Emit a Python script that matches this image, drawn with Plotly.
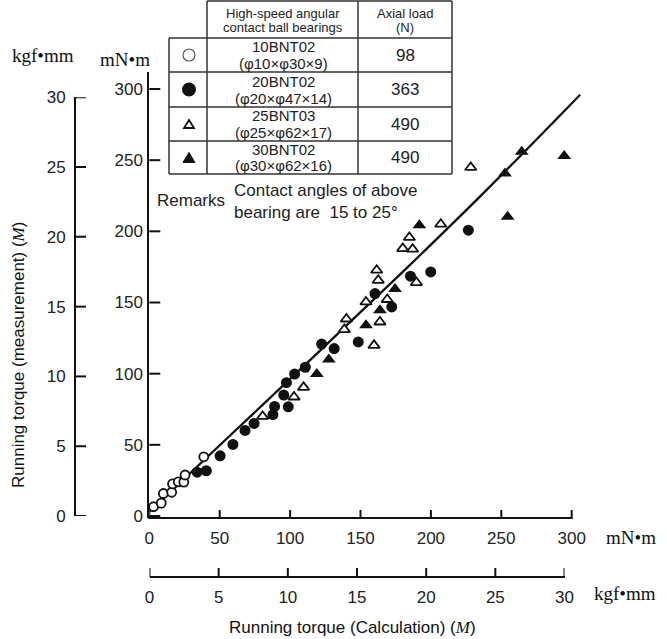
import plotly.graph_objects as go

W, H = 667, 639

# ---------------- data (mN·m) ----------------
oc_x = [3.0, 8.5, 10.0, 15.9, 16.5, 20.6, 24.5, 25.4, 38.7]
oc_y = [6.5, 9.0, 15.8, 16.7, 22.6, 24.0, 23.8, 28.8, 41.6]

fc_x = [34.0, 40.5, 50.3, 59.4, 68.0, 74.4, 87.8, 89.0, 95.5, 97.4, 98.7, 103.2,
        110.8, 122.4, 131.3, 148.4, 160.3, 172.2, 185.5, 199.9, 226.6]
fc_y = [30.8, 31.8, 42.3, 50.3, 60.1, 65.0, 71.3, 77.0, 85.0, 93.7, 76.7, 99.7,
        104.5, 120.8, 117.6, 122.3, 156.3, 146.9, 168.5, 171.5, 200.8]

ot_x = [80.5, 102.8, 109.6, 138.5, 140.0, 153.9, 159.6, 163.8, 162.6, 161.5, 169.0,
        180.0, 187.0, 184.7, 189.7, 207.0, 228.3]
ot_y = [70.0, 83.6, 90.4, 131.0, 138.4, 150.4, 119.9, 136.3, 165.6, 172.7, 152.1,
        187.9, 187.5, 195.7, 164.0, 205.0, 244.9]

ft_x = [119.0, 127.5, 153.9, 163.8, 174.5, 191.8, 252.6, 254.5, 264.5, 294.7]
ft_y = [99.8, 110.0, 134.0, 144.5, 159.5, 204.3, 240.7, 210.2, 255.9, 252.9]

fit_x = [0, 60, 120, 180, 240, 306]
fit_y = [3.0, 59.0, 115.0, 171.5, 229.5, 296.0]

x_ticks = [0, 50, 100, 150, 200, 250, 300]
y_ticks = [0, 50, 100, 150, 200, 250, 300]
kgf_ticks = [0, 5, 10, 15, 20, 25, 30]

bearings = ["10BNT02", "20BNT02", "25BNT03", "30BNT02"]
dims = ["(φ10×φ30×9)", "(φ20×φ47×14)", "(φ25×φ62×17)", "(φ30×φ62×16)"]
loads = ["98", "363", "490", "490"]

# ---------------- geometry helpers ----------------
def PX(p):
    return p / W

def PY(p):
    return 1 - p / H

X0, X300 = 149.3, 571.7
kx = (X300 - X0) / 300
XMAX = 310
Y0, Y300 = 516, 89
ky = (Y0 - Y300) / 300
YTOP, YBOT = 72, 518

SANS = "Liberation Sans, Arial, sans-serif"
SERIF = "Liberation Serif, Times New Roman, serif"
INK = "#111111"

fig = go.Figure()

fig.add_trace(go.Scatter(x=fit_x, y=fit_y, mode="lines",
                         line=dict(color=INK, width=2.3, shape="spline"),
                         hoverinfo="skip", showlegend=False))
fig.add_trace(go.Scatter(x=fc_x, y=fc_y, mode="markers", cliponaxis=False,
                         marker=dict(symbol="circle", size=11, color=INK),
                         showlegend=False))
fig.add_trace(go.Scatter(x=ft_x, y=ft_y, mode="markers", cliponaxis=False,
                         marker=dict(symbol="triangle-up", size=12, color=INK),
                         showlegend=False))
fig.add_trace(go.Scatter(x=ot_x, y=ot_y, mode="markers", cliponaxis=False,
                         marker=dict(symbol="triangle-up", size=10, color="white",
                                     line=dict(color=INK, width=1.8)),
                         showlegend=False))
fig.add_trace(go.Scatter(x=oc_x, y=oc_y, mode="markers", cliponaxis=False,
                         marker=dict(symbol="circle", size=9, color="white",
                                     line=dict(color=INK, width=1.8)),
                         showlegend=False))

# dummy traces so secondary free axes get drawn
fig.add_trace(go.Scatter(x=[0], y=[0], xaxis="x2", yaxis="y", mode="markers",
                         marker=dict(opacity=0), hoverinfo="skip", showlegend=False))
fig.add_trace(go.Scatter(x=[0], y=[0], xaxis="x", yaxis="y2", mode="markers",
                         marker=dict(opacity=0), hoverinfo="skip", showlegend=False))

tickfont = dict(family=SANS, size=17, color="#222")
common = dict(showgrid=False, zeroline=False, automargin=False, tickfont=tickfont,
              ticks="")

fig.update_layout(
    template="none",
    width=W, height=H,
    margin=dict(l=0, r=0, t=0, b=0, pad=0, autoexpand=False),
    paper_bgcolor="white", plot_bgcolor="rgba(0,0,0,0)",
    showlegend=False,
    xaxis=dict(domain=[PX(X0), PX(X0 + XMAX * kx)], range=[0, XMAX], anchor="y",
               tickvals=x_ticks, showline=False, ticklabelstandoff=8, **common),
    yaxis=dict(domain=[PY(YBOT), PY(YTOP)], range=[-(YBOT - Y0) / ky, (Y0 - YTOP) / ky],
               anchor="x", tickvals=y_ticks, ticklabelstandoff=1,
               showline=True, linewidth=2, linecolor=INK, **common),
    xaxis2=dict(domain=[PX(149.5), PX(564.5)], range=[0, 30], anchor="free",
                position=PY(577), side="bottom", tickvals=kgf_ticks,
                showline=True, linewidth=2, linecolor=INK, ticklabelstandoff=5, **common),
    yaxis2=dict(domain=[PY(516), PY(97.3)], range=[0, 30], anchor="free",
                position=PX(75), side="left", tickvals=kgf_ticks,
                showline=True, linewidth=2, linecolor=INK, ticklabelstandoff=5, **common),
)

shapes = []
tk = dict(color=INK, width=2)
# main x axis line (0..300)
shapes.append(dict(type="line", xref="paper", yref="paper", x0=PX(X0 - 1), x1=PX(X300 + 1),
                   y0=PY(YBOT), y1=PY(YBOT), line=tk))

# tick marks (positioned through each axis' own scale)
for v in x_ticks:
    shapes.append(dict(type="line", xref="x", yref="paper", x0=v, x1=v,
                       y0=PY(YBOT), y1=PY(YBOT - 8), line=tk))
for v in y_ticks:
    shapes.append(dict(type="line", xref="paper", yref="y", x0=PX(X0), x1=PX(X0 + 11),
                       y0=v, y1=v, line=tk))
for v in kgf_ticks:
    shapes.append(dict(type="line", xref="x2", yref="paper", x0=v, x1=v,
                       y0=PY(577), y1=PY(568), line=tk))
    shapes.append(dict(type="line", xref="paper", yref="y2", x0=PX(75), x1=PX(86),
                       y0=v, y1=v, line=tk))

# table
tl = dict(color="#333", width=1.5)
T_L, T_C1, T_C2, T_R = 169, 207, 358, 452
rows = [1, 38, 72, 107, 141, 174]
shapes.append(dict(type="line", xref="paper", yref="paper", x0=PX(T_C1), x1=PX(T_R),
                   y0=PY(rows[0]), y1=PY(rows[0]), line=tl))
for r in rows[1:]:
    shapes.append(dict(type="line", xref="paper", yref="paper", x0=PX(T_L), x1=PX(T_R),
                       y0=PY(r), y1=PY(r), line=tl))
shapes.append(dict(type="line", xref="paper", yref="paper", x0=PX(T_L), x1=PX(T_L),
                   y0=PY(rows[1]), y1=PY(rows[-1]), line=tl))
for c in (T_C1, T_C2, T_R):
    shapes.append(dict(type="line", xref="paper", yref="paper", x0=PX(c), x1=PX(c),
                       y0=PY(rows[0]), y1=PY(rows[-1]), line=tl))

# legend symbols in the table
leg_y = [55, 89.5, 124, 157.5]
LX = 189

def circ(cx, cy, r, fill, lw, lc):
    shapes.append(dict(type="circle", xref="paper", yref="paper",
                       x0=PX(cx - r), x1=PX(cx + r), y0=PY(cy + r), y1=PY(cy - r),
                       fillcolor=fill, line=dict(color=lc, width=lw)))

def tri(cx, cy, half, hgt, fill, lw):
    p = "M {:.5f},{:.5f} L {:.5f},{:.5f} L {:.5f},{:.5f} Z".format(
        PX(cx - half), PY(cy + hgt / 2), PX(cx + half), PY(cy + hgt / 2),
        PX(cx), PY(cy - hgt / 2))
    shapes.append(dict(type="path", xref="paper", yref="paper", path=p,
                       fillcolor=fill, line=dict(color=INK, width=lw)))

circ(LX, leg_y[0], 6, "white", 1.2, "#555")
circ(LX, leg_y[1], 7, INK, 0, INK)
tri(LX, leg_y[2], 5, 8, "white", 1.8)
tri(LX, leg_y[3], 6, 10, INK, 1)

fig.update_layout(shapes=shapes)

ann = []

def txt(x, y, s, size, family=SANS, angle=0, xanchor="center", color=INK):
    ann.append(dict(x=PX(x), y=PY(y), xref="paper", yref="paper", text=s, showarrow=False,
                    xanchor=xanchor, yanchor="middle", textangle=angle,
                    font=dict(family=family, size=size, color=color)))

M = '<span style="font-family:Liberation Serif"><i>M</i></span>'
txt(18, 355, "Running torque (measurement) (" + M + ")", 17, angle=-90)
txt(352, 627, "Running torque (Calculation) (" + M + ")", 17)
txt(43, 55, "kgf•mm", 19, family=SERIF)
txt(125, 59, "mN•m", 19, family=SERIF)
txt(631, 537, "mN•m", 19, family=SERIF)
txt(625, 593, "kgf•mm", 19, family=SERIF)

# table text
txt(283, 14, "High-speed angular", 13, color="#222")
txt(283, 28, "contact ball bearings", 13, color="#222")
txt(405, 14, "Axial load", 13, color="#222")
txt(405, 28, "(N)", 13, color="#222")
for i in range(4):
    yc = leg_y[i]
    txt(283, yc - 8, bearings[i], 15, color="#222")
    txt(283, yc + 8.5, dims[i], 15, color="#222")
    txt(405, yc, loads[i], 17, color="#222")

# remarks
txt(191, 200, "Remarks", 17, color="#222")
txt(232, 190, "Contact angles of above", 17, xanchor="left", color="#222")
txt(232, 212, "bearing are  15 to 25°", 17, xanchor="left", color="#222")

fig.update_layout(annotations=ann)

fig.write_html("out.html", config={"displayModeBar": False},
               post_script="document.body.style.margin='0px';"
                           "document.documentElement.style.overflow='hidden';")
